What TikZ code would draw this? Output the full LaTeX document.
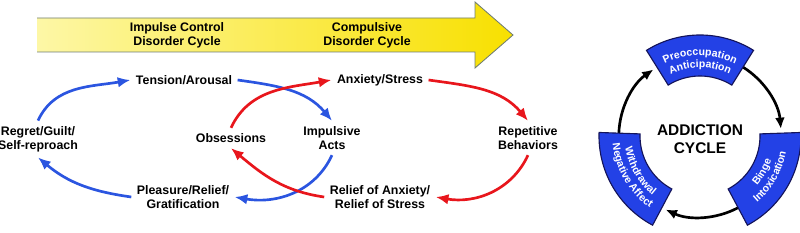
\documentclass[tikz,border=0pt]{standalone}
\usepackage{fontspec}
\setmainfont{Liberation Sans}
\usetikzlibrary{arrows.meta,decorations.text}
\definecolor{cycblue}{HTML}{2B55E0}
\definecolor{cycred}{HTML}{E8161C}
\definecolor{boxblue}{HTML}{2341E6}
\definecolor{boxline}{HTML}{14145A}
\definecolor{paleyel}{HTML}{FDF7A6}
\definecolor{deepyel}{HTML}{F8E000}
\definecolor{barline}{HTML}{6E7C74}

\begin{document}
\begin{tikzpicture}[line width=1.9pt,
  lbl/.style={align=center, font=\bfseries\fontsize{8.8}{10}\selectfont, inner sep=1pt, outer sep=3pt},
  bluearr/.style={draw=cycblue, -{Latex[length=9pt,width=7.5pt]}},
  redarr/.style={draw=cycred, -{Latex[length=9pt,width=7.5pt]}},
  ringarr/.style={draw=black, -{Latex[length=8pt,width=7pt]}},
  sector/.style={fill=boxblue, draw=boxline, line width=0.8pt},
  boxtext/.style={decorate, decoration={text along path, text align=center, text color=white, text={|\bfseries\fontsize{7.5}{9}\selectfont|#1}}}]
  \useasboundingbox (0,0) rectangle (20,5.8);
  % 노란 화살표
  \shade[left color=paleyel, right color=deepyel] (0.925,5.35) -- (11.875,5.35) -- (11.875,5.75) -- (12.825,4.925)
    -- (11.875,4.1) -- (11.875,4.5) -- (0.925,4.5) -- cycle;
  \draw[barline, line width=0.6pt] (0.925,5.35) -- (11.875,5.35) -- (11.875,5.75) -- (12.825,4.925)
    -- (11.875,4.1) -- (11.875,4.5) -- (0.925,4.5);
  \node[lbl] (icd) at (4.425,4.925) {Impulse Control\\Disorder Cycle};
  \node[lbl] (cd) at (9.175,4.925) {Compulsive\\Disorder Cycle};
  % 두 순환의 항목
  \node[lbl] (tension) at (4.6,3.8) {Tension/Arousal};
  \node[lbl] (regret) at (0.95,2.325) {Regret/Guilt/\\Self-reproach};
  \node[lbl] (obsess) at (5.775,2.35) {Obsessions};
  \node[lbl] (pleasure) at (4.575,0.875) {Pleasure/Relief/\\Gratification};
  \node[lbl] (impulsive) at (8.3,2.35) {Impulsive\\Acts};
  \node[lbl] (anxiety) at (9.5,3.8) {Anxiety/Stress};
  \node[lbl] (repet) at (13.2,2.35) {Repetitive\\Behaviors};
  \node[lbl] (relief) at (9.5,0.875) {Relief of Anxiety/\\Relief of Stress};
  % 충동조절 장애 순환
  \draw[bluearr] (regret.north) to[out=65, in=190] (tension.west);
  \draw[bluearr] (tension.east) to[out=-8, in=130] (impulsive.north);
  \draw[bluearr] (impulsive.south) to[out=-115, in=-10] (pleasure.east);
  \draw[bluearr] (pleasure.west) to[out=172, in=-40] (regret.south);
  % 강박 장애 순환
  \draw[redarr] (obsess.north) to[out=65, in=190] (anxiety.west);
  \draw[redarr] (anxiety.east) to[out=-8, in=130] (repet.north);
  \draw[redarr] (repet.south) to[out=-115, in=-10] (relief.east);
  \draw[redarr] (relief.west) to[out=172, in=-40] (obsess.south);
  % 중독 순환
  \begin{scope}[shift={(17.5,2.4)}]
    \draw[ringarr] (58:2.03) arc (58:5:2.03);
    \draw[ringarr] (-62:2.03) arc (-62:-115:2.03);
    \draw[ringarr] (178:2.03) arc (178:125:2.03);
    \draw[sector] (58:1.5) arc (58:122:1.5) -- (122:2.525) arc (122:58:2.525) -- cycle;
    \draw[sector] (-62:1.5) arc (-62:2:1.5) -- (2:2.525) arc (2:-62:2.525) -- cycle;
    \draw[sector] (178:1.5) arc (178:242:1.5) -- (242:2.525) arc (242:178:2.525) -- cycle;
    \path[boxtext=Preoccupation] (122:2.01) arc (122:58:2.01);
    \path[boxtext=Anticipation] (122:1.71) arc (122:58:1.71);
    \path[boxtext=Binge] (-62:1.89) arc (-62:2:1.89);
    \path[boxtext=Intoxication] (-62:2.19) arc (-62:2:2.19);
    \path[boxtext=Withdrawal] (178:1.89) arc (178:242:1.89);
    \path[boxtext=Negative Affect] (178:2.19) arc (178:242:2.19);
    \node[align=center, font=\bfseries\fontsize{11}{13}\selectfont] (title) at (0,-0.075) {ADDICTION\\CYCLE};
  \end{scope}
\end{tikzpicture}
\end{document}
